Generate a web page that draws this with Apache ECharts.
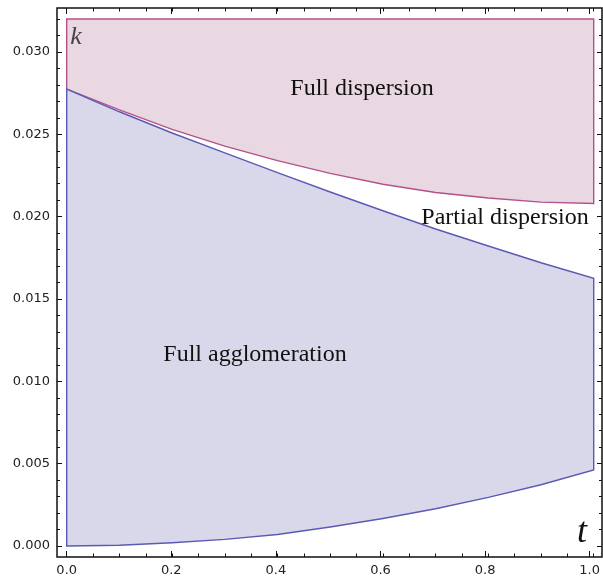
<!DOCTYPE html>
<html>
<head>
<meta charset="utf-8">
<script src="https://cdn.jsdelivr.net/npm/echarts@6/dist/echarts.min.js"></script>
<style>html,body{margin:0;padding:0;background:#fff}#c{width:603px;height:580px}</style>
</head>
<body>
<div id="c"></div>
<script>
// ---- data ----
const tValues = [0, 0.1, 0.2, 0.3, 0.4, 0.5, 0.6, 0.7, 0.8, 0.9, 1.0];
const dispersionLower = [0.02775, 0.02648, 0.02530, 0.02428, 0.02340, 0.02263, 0.02197, 0.02147, 0.02113, 0.02088, 0.02080];
const dispersionTop = 0.032;
const agglomerationUpper = [0.02775, 0.02637, 0.02508, 0.02387, 0.02267, 0.02150, 0.02036, 0.01925, 0.01822, 0.01720, 0.01626];
const agglomerationLower = [0, 0.00005, 0.0002, 0.0004, 0.0007, 0.00115, 0.00167, 0.00226, 0.00295, 0.00372, 0.00462];
const regionLabels = ['Full dispersion', 'Partial dispersion', 'Full agglomeration'];
const axisTitles = ['t', 'k'];

// ---- build polygons ----
const n = tValues.length;
const dispersionPoly = [[tValues[0], dispersionTop], [tValues[n - 1], dispersionTop]];
for (let i = n - 1; i >= 0; i--) dispersionPoly.push([tValues[i], dispersionLower[i]]);
const agglomerationPoly = [];
for (let i = 0; i < n; i++) agglomerationPoly.push([tValues[i], agglomerationLower[i]]);
for (let i = n - 1; i >= 0; i--) agglomerationPoly.push([tValues[i], agglomerationUpper[i]]);

const chart = echarts.init(document.getElementById('c'), null, {renderer: 'canvas'});
const tickColor = '#111';
const labelStyle = {color: '#222', fontFamily: 'DejaVu Sans', fontSize: 13};
const hiddenAxis = (gi) => ({gridIndex: gi, type: 'value', show: false, min: 0, max: 1});

function polySeries(poly, fill, stroke, z) {
  return {
    type: 'custom', xAxisIndex: 0, yAxisIndex: 0, data: [0], z: z, clip: false, silent: true,
    renderItem: (params, api) => ({
      type: 'polygon',
      shape: {points: poly.map(p => api.coord(p))},
      style: {fill: fill, stroke: stroke, lineWidth: 1.4}
    })
  };
}

const serifLabel = (text, x, y) => ({type: 'text', x: x, y: y, z: 10,
  style: {text: text, font: '24px "Liberation Serif"', fill: '#111', align: 'center', verticalAlign: 'middle'}});

const option = {
  animation: false,
  backgroundColor: '#fff',
  grid: [
    {left: 57, right: 1, top: 8, bottom: 23, show: true, borderColor: '#111', borderWidth: 1.5, backgroundColor: 'transparent', z: 5},
    {left: 57, right: 1, top: 52, bottom: 34},
    {left: 57, right: 1, top: 19.07, bottom: 34},
    {left: 66.7, right: 9.3, top: 8, bottom: 23},
    {left: 66.7, right: 9.3, top: 8, bottom: 23}
  ],
  xAxis: [
    {gridIndex: 0, type: 'value', min: -0.01841, max: 1.01575, show: false},
    hiddenAxis(1),
    hiddenAxis(2),
    {gridIndex: 3, type: 'value', min: 0, max: 1, interval: 0.2, position: 'bottom',
     axisLine: {show: false}, splitLine: {show: false},
     axisTick: {show: true, inside: true, length: 6, lineStyle: {color: tickColor, width: 1}},
     axisLabel: Object.assign({margin: 7, formatter: v => v.toFixed(1)}, labelStyle)},
    {gridIndex: 3, type: 'value', min: 0, max: 1, interval: 0.2, position: 'top',
     axisLine: {show: false}, splitLine: {show: false}, axisLabel: {show: false},
     axisTick: {show: true, inside: true, length: 6, lineStyle: {color: tickColor, width: 1}}},
    {gridIndex: 4, type: 'value', min: 0, max: 1, interval: 0.05, position: 'bottom',
     axisLine: {show: false}, splitLine: {show: false}, axisLabel: {show: false},
     axisTick: {show: true, inside: true, length: 3.5, lineStyle: {color: tickColor, width: 1}}},
    {gridIndex: 4, type: 'value', min: 0, max: 1, interval: 0.05, position: 'top',
     axisLine: {show: false}, splitLine: {show: false}, axisLabel: {show: false},
     axisTick: {show: true, inside: true, length: 3.5, lineStyle: {color: tickColor, width: 1}}}
  ],
  yAxis: [
    {gridIndex: 0, type: 'value', min: -0.000668, max: 0.032672, show: false},
    {gridIndex: 1, type: 'value', min: 0, max: 0.03, interval: 0.005, position: 'left',
     axisLine: {show: false}, splitLine: {show: false},
     axisTick: {show: true, inside: true, length: 5, lineStyle: {color: tickColor, width: 1}},
     axisLabel: Object.assign({margin: 7, formatter: v => v.toFixed(3)}, labelStyle)},
    {gridIndex: 1, type: 'value', min: 0, max: 0.03, interval: 0.005, position: 'right',
     axisLine: {show: false}, splitLine: {show: false}, axisLabel: {show: false},
     axisTick: {show: true, inside: true, length: 5, lineStyle: {color: tickColor, width: 1}}},
    {gridIndex: 2, type: 'value', min: 0, max: 0.032, interval: 0.001, position: 'left',
     axisLine: {show: false}, splitLine: {show: false}, axisLabel: {show: false},
     axisTick: {show: true, inside: true, length: 3, lineStyle: {color: tickColor, width: 1}}},
    {gridIndex: 2, type: 'value', min: 0, max: 0.032, interval: 0.001, position: 'right',
     axisLine: {show: false}, splitLine: {show: false}, axisLabel: {show: false},
     axisTick: {show: true, inside: true, length: 3, lineStyle: {color: tickColor, width: 1}}},
    hiddenAxis(3),
    hiddenAxis(4)
  ],
  series: [
    polySeries(dispersionPoly, '#e9d8e2', '#b5508a', 2),
    polySeries(agglomerationPoly, '#d9d8ea', '#5a5ab4', 3)
  ],
  graphic: [
    serifLabel(regionLabels[0], 362, 89),
    serifLabel(regionLabels[1], 505, 218),
    serifLabel(regionLabels[2], 255, 355),
    {type: 'text', x: 582, y: 533, z: 10, style: {text: axisTitles[0], font: 'italic 36px "Liberation Serif"', fill: '#111', align: 'center', verticalAlign: 'middle'}},
    {type: 'text', x: 76, y: 37, z: 10, style: {text: axisTitles[1], font: 'italic 26px "Liberation Serif"', fill: '#444', align: 'center', verticalAlign: 'middle'}}
  ]
};
chart.setOption(option);
</script>
</body>
</html>
